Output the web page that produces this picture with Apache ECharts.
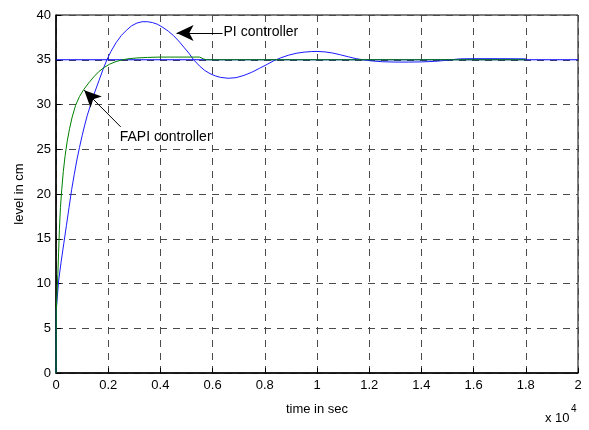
<!DOCTYPE html>
<html>
<head>
<meta charset="utf-8">
<script src="https://cdn.jsdelivr.net/npm/echarts@6/dist/echarts.min.js"></script>
<style>
  html, body { margin: 0; padding: 0; background: #fff; }
  #chart { width: 589px; height: 430px; }
</style>
</head>
<body>
<div id="chart"></div>
<script>
// Tank level response, time axis in units of 1e4 s
const piTime  = [0, 0.001, 0.005, 0.01, 0.02, 0.03, 0.04, 0.05, 0.06, 0.07, 0.08, 0.09, 0.10, 0.11, 0.12, 0.135, 0.15, 0.165, 0.18, 0.195, 0.21, 0.23, 0.25, 0.27, 0.29, 0.31, 0.33, 0.35, 0.37, 0.39, 0.41, 0.43, 0.45, 0.47, 0.49, 0.51, 0.527, 0.55, 0.57, 0.59, 0.61, 0.63, 0.66, 0.69, 0.72, 0.75, 0.78, 0.81, 0.835, 0.86, 0.89, 0.92, 0.95, 0.98, 1.0, 1.03, 1.06, 1.09, 1.12, 1.15, 1.18, 1.21, 1.25, 1.30, 1.35, 1.40, 1.45, 1.49, 1.52, 1.55, 1.60, 1.70, 1.80];
const piLevel = [0, 7, 8.5, 10.3, 12.5, 14.5, 16.5, 18.5, 20.5, 22.2, 23.8, 25.2, 26.5, 27.7, 28.8, 30.2, 31.5, 32.7, 33.9, 35.0, 35.9, 36.9, 37.7, 38.3, 38.8, 39.1, 39.25, 39.25, 39.15, 38.95, 38.6, 38.2, 37.7, 37.1, 36.4, 35.7, 35.0, 34.3, 33.8, 33.45, 33.2, 33.03, 32.93, 33.0, 33.25, 33.6, 34.05, 34.5, 34.9, 35.2, 35.5, 35.72, 35.85, 35.92, 35.93, 35.88, 35.75, 35.55, 35.33, 35.12, 34.98, 34.87, 34.78, 34.74, 34.74, 34.76, 34.82, 34.92, 35.02, 35.1, 35.12, 35.12, 35.1];

const fapiTime  = [0, 0.001, 0.004, 0.007, 0.01, 0.013, 0.017, 0.022, 0.028, 0.035, 0.043, 0.052, 0.062, 0.075, 0.09, 0.107, 0.125, 0.145, 0.165, 0.185, 0.205, 0.23, 0.255, 0.28, 0.31, 0.35, 0.40, 0.55, 0.565, 0.575, 1.80];
const fapiLevel = [0, 7, 9, 11, 13.5, 16, 18.5, 20.5, 22.5, 24.3, 25.9, 27.3, 28.6, 29.9, 30.9, 31.7, 32.4, 33.1, 33.7, 34.15, 34.5, 34.8, 35.0, 35.12, 35.2, 35.26, 35.3, 35.3, 35.1, 35.0, 35.0];

const setTime  = [0, 2];
const setLevel = [35, 35];

const xTicks = { min: 0, max: 2, step: 0.2 };
const yTicks = { min: 0, max: 40, step: 5 };

const piArrow   = { from: [0.638, 38.0], to: [0.462, 38.0], text: 'PI controller' };
const fapiArrow = { from: [0.248, 27.5], to: [0.108, 31.6], text: 'FAPI controller' };

const zip = (a, b) => a.map((v, i) => [v, b[i]]);

const FONT = '"Liberation Sans", Arial, sans-serif';
const gridDash = { color: '#4a4a4a', type: [7, 6], width: 1 };

function arrowMark(a) {
  return {
    silent: true,
    symbol: ['none', 'arrow'],
    symbolSize: [12, 17],
    lineStyle: { color: '#000', width: 1, type: 'solid' },
    label: { show: false },
    data: [[{ coord: a.from }, { coord: a.to }]]
  };
}

function textMark(a, dx, dy) {
  return {
    silent: true,
    symbol: 'circle',
    symbolSize: 0,
    label: {
      show: true, position: 'right', distance: 0, offset: [dx, dy],
      formatter: a.text, color: '#000', fontSize: 14, fontFamily: FONT
    },
    data: [{ coord: a.from }]
  };
}

const chart = echarts.init(document.getElementById('chart'), null, { renderer: 'canvas' });
chart.setOption({
  animation: false,
  backgroundColor: '#fff',
  grid: { left: 56, right: 11, top: 15, bottom: 57, show: true, borderColor: '#000', borderWidth: 1 },
  xAxis: {
    type: 'value', min: xTicks.min, max: xTicks.max, interval: xTicks.step,
    name: 'time in sec', nameLocation: 'middle', nameGap: 30,
    nameTextStyle: { color: '#000', fontSize: 13, fontFamily: FONT },
    axisLine: { show: true, lineStyle: { color: '#000', width: 1.5 } },
    axisTick: { show: true, inside: true, length: 5, lineStyle: { color: '#000' } },
    axisLabel: { color: '#000', fontSize: 13, fontFamily: FONT, margin: 6 },
    splitLine: { show: true, lineStyle: gridDash }
  },
  yAxis: {
    type: 'value', min: yTicks.min, max: yTicks.max, interval: yTicks.step,
    name: 'level in cm', nameLocation: 'middle', nameGap: 28,
    nameTextStyle: { color: '#000', fontSize: 13, fontFamily: FONT },
    axisLine: { show: true, lineStyle: { color: '#000', width: 1.5 } },
    axisTick: { show: true, inside: true, length: 5, lineStyle: { color: '#000' } },
    axisLabel: { color: '#000', fontSize: 13, fontFamily: FONT, margin: 5 },
    splitLine: { show: true, lineStyle: gridDash }
  },
  graphic: [
    { type: 'text', left: 545, top: 412, style: { text: 'x 10', fill: '#000', font: '13px ' + FONT } },
    { type: 'text', left: 571, top: 404, style: { text: '4', fill: '#000', font: '10px ' + FONT } }
  ],
  series: [
    {
      name: 'setpoint', type: 'line', data: zip(setTime, setLevel),
      showSymbol: false, lineStyle: { color: '#0000ff', width: 1 }, z: 2
    },
    {
      name: 'PI controller', type: 'line', data: zip(piTime, piLevel),
      showSymbol: false, lineStyle: { color: '#1a1aff', width: 1 }, z: 3,
      markLine: arrowMark(piArrow),
      markPoint: textMark(piArrow, 1, -1)
    },
    {
      name: 'FAPI controller', type: 'line', data: zip(fapiTime, fapiLevel),
      showSymbol: false, lineStyle: { color: '#008000', width: 1 }, z: 4,
      markLine: arrowMark(fapiArrow),
      markPoint: textMark(fapiArrow, -1, 10)
    }
  ]
});
</script>
</body>
</html>
